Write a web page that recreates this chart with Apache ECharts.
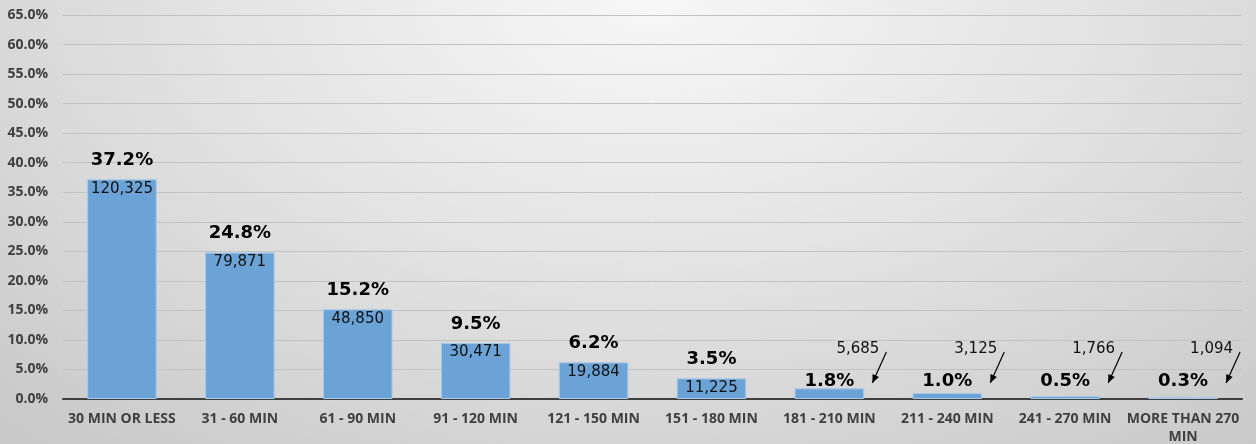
<!DOCTYPE html>
<html>
<head>
<meta charset="utf-8">
<script src="https://cdn.jsdelivr.net/npm/echarts@6/dist/echarts.min.js"></script>
<style>
  html, body { margin: 0; padding: 0; }
  #chart {
    width: 1256px;
    height: 444px;
    background: radial-gradient(ellipse 75% 130% at 52% 0%, #f7f7f7 0%, #e4e4e4 45%, #c9c9c9 100%);
  }
</style>
</head>
<body>
<div id="chart"></div>
<script>
const categories = ['30 MIN OR LESS', '31 - 60 MIN', '61 - 90 MIN', '91 - 120 MIN', '121 - 150 MIN',
  '151 - 180 MIN', '181 - 210 MIN', '211 - 240 MIN', '241 - 270 MIN', 'MORE THAN 270\nMIN']
const shares = [37.2, 24.8, 15.2, 9.5, 6.2, 3.5, 1.8, 1.0, 0.5, 0.3]
const counts = [120325, 79871, 48850, 30471, 19884, 11225, 5685, 3125, 1766, 1094]
// bars from this index on get their count outside, with an arrow
const calloutFrom = 6

const axisFont = '"Open Sans", "DejaVu Sans", sans-serif'
const labelFont = '"DejaVu Sans", sans-serif'
const fmtCount = v => v.toLocaleString('en-US')
const fmtPct = v => v.toFixed(1) + '%'

const chart = echarts.init(document.getElementById('chart'))

const countData = shares.map((s, i) => [i, s, counts[i]])

const option = {
  backgroundColor: 'transparent',
  animation: false,
  grid: { left: 63, right: 14, top: 15, bottom: 45, containLabel: false, outerBoundsMode: 'none' },
  xAxis: {
    type: 'category',
    data: categories,
    axisTick: { show: false },
    axisLine: { lineStyle: { color: '#3f3f3f', width: 2 } },
    axisLabel: {
      interval: 0,
      margin: 11,
      color: '#404040',
      fontFamily: axisFont,
      fontWeight: 'bold',
      fontSize: 14,
      lineHeight: 18
    }
  },
  yAxis: {
    type: 'value',
    min: 0,
    max: 65,
    interval: 5,
    axisLine: { show: false },
    axisTick: { show: false },
    splitLine: { lineStyle: { color: '#c2c2c2', width: 1 } },
    axisLabel: {
      formatter: fmtPct,
      color: '#404040',
      fontFamily: axisFont,
      fontWeight: 'bold',
      fontSize: 14,
      margin: 15
    }
  },
  series: [
    {
      type: 'bar',
      data: shares,
      barWidth: '59%',
      itemStyle: { color: '#6ba3d7', borderColor: '#a9c9e8', borderWidth: 1 },
      label: {
        show: true,
        position: 'top',
        distance: 10,
        formatter: p => (p.dataIndex < calloutFrom ? fmtPct(p.value) : ''),
        color: '#000',
        fontFamily: labelFont,
        fontWeight: 'bold',
        fontSize: 18
      }
    },
    {
      type: 'custom',
      data: countData,
      z: 5,
      renderItem: (params, api) => {
        const i = api.value(0)
        const top = api.coord([i, api.value(1)])
        const base = api.coord([i, 0])
        const txt = fmtCount(api.value(2))
        const style = { fill: '#111', font: '15px ' + labelFont }
        if (i < calloutFrom) {
          return {
            type: 'text',
            style: Object.assign({ text: txt, x: top[0], y: top[1] + 2, align: 'center', verticalAlign: 'top' }, style)
          }
        }
        const x0 = base[0] + 57
        const y0 = base[1] - 47
        const x1 = base[0] + 43
        const y1 = base[1] - 16
        const ang = Math.atan2(y1 - y0, x1 - x0)
        const ah = 9
        return {
          type: 'group',
          children: [
            {
              type: 'text',
              style: Object.assign({ text: txt, x: base[0] + 50, y: base[1] - 50, align: 'right', verticalAlign: 'middle' }, style)
            },
            {
              type: 'text',
              style: {
                text: fmtPct(api.value(1)), x: base[0], y: base[1] - 18,
                align: 'center', verticalAlign: 'middle',
                fill: '#000', font: 'bold 18px ' + labelFont
              }
            },
            {
              type: 'line',
              shape: { x1: x0, y1: y0, x2: x1, y2: y1 },
              style: { stroke: '#000', lineWidth: 1.2 }
            },
            {
              type: 'polygon',
              shape: {
                points: [
                  [x1, y1],
                  [x1 - ah * Math.cos(ang - 0.4), y1 - ah * Math.sin(ang - 0.4)],
                  [x1 - ah * Math.cos(ang + 0.4), y1 - ah * Math.sin(ang + 0.4)]
                ]
              },
              style: { fill: '#000' }
            }
          ]
        }
      }
    }
  ]
}

chart.setOption(option)
</script>
</body>
</html>
